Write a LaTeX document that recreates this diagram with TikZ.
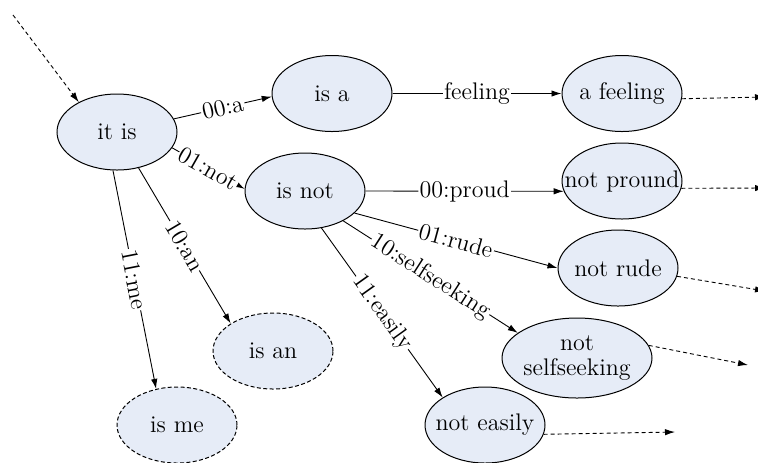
\documentclass[tikz,border=0pt]{standalone}
\usetikzlibrary{shapes.geometric,arrows.meta}
\definecolor{nodefill}{RGB}{230,236,247}
\newcommand{\zb}[1]{\makebox[0pt]{#1}}
\tikzset{
  state/.style={ellipse,draw,line width=0.5pt,fill=nodefill,inner sep=0pt,
    minimum width=60pt,minimum height=38pt,
    font=\fontsize{12}{14.5}\selectfont},
  dstate/.style={state,dashed,dash pattern=on 2pt off 1.2pt},
  tr/.style={line width=0.45pt,-{Latex[length=5pt,width=3.2pt]}},
  dtr/.style={tr,dash pattern=on 2pt off 1.5pt},
  lbl/.style={sloped,fill=white,inner sep=0.6pt,font=\fontsize{12}{14}\selectfont}
}
\begin{document}
\begin{tikzpicture}[x=0.5pt,y=-0.5pt]
\useasboundingbox (0,0) rectangle (758,462);
% nodes
\node[state] (itis) at (117,132) {\zb{it is}};
\node[state] (isa) at (332,93.5) {\zb{is a}};
\node[state] (afeeling) at (622,93.5) {\zb{a feeling}};
\node[state] (isnot) at (305,191) {\zb{is not}};
\node[state] (notpround) at (622,181) {\zb{not pround}};
\node[state] (notrude) at (618,268) {\zb{not rude}};
\node[state,minimum width=75pt,minimum height=40pt] (notself) at (577,358)
  {\zb{\shortstack[c]{not\\[1pt]selfseeking}}};
\node[state] (noteasily) at (485,425) {\zb{not easily}};
\node[dstate] (isan) at (273,351) {\zb{is an}};
\node[dstate] (isme) at (177,425) {\zb{is me}};
% free ends
\coordinate (start) at (13,15);
\coordinate (o1) at (765,97);
\coordinate (o2) at (765,188);
\coordinate (o3) at (765,291);
\coordinate (o4) at (748,365);
\coordinate (o5) at (675,432);
% edges
\draw[dtr] (start) -- (itis.142);
\draw[tr] (itis.13) -- node[lbl]{00:a} (isa.183);
\draw[tr] (itis.-16) -- node[lbl]{01:not} (isnot.178);
\draw[tr] (itis.-59) -- node[lbl]{10:an} (isan.147);
\draw[tr] (itis.264) -- node[lbl]{11:me} (isme.120);
\draw[tr] (isa) -- node[lbl]{feeling} (afeeling);
\draw[tr] (isnot.east) -- node[lbl]{00:proud} (notpround.190);
\draw[tr] (isnot.-24) -- node[lbl]{01:rude} (notrude.180);
\draw[tr] (isnot.-38) -- node[lbl]{10:selfseeking} (notself.157);
\draw[tr] (isnot.-66) -- node[lbl]{11:easily} (noteasily.147);
\draw[dtr] (afeeling.-5) -- (o1);
\draw[dtr] (notpround.-7) -- (o2);
\draw[dtr] (notrude.-8) -- (o3);
\draw[dtr] (notself.10) -- (o4);
\draw[dtr] (noteasily.-9) -- (o5);
\end{tikzpicture}
\end{document}
